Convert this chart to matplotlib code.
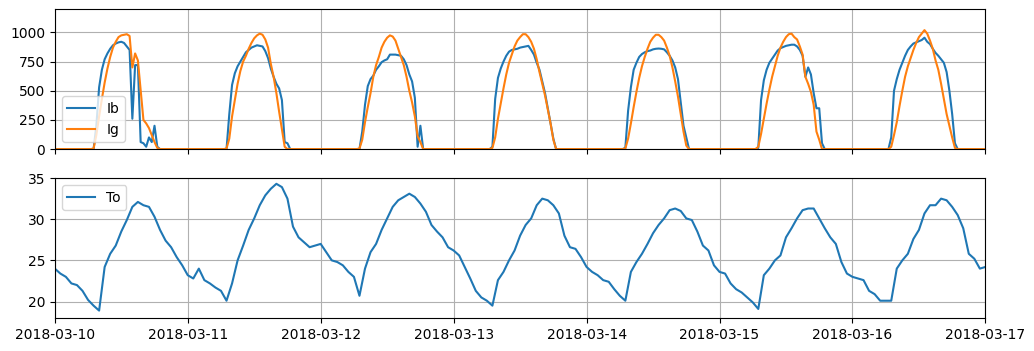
import matplotlib
matplotlib.use('Agg')
import matplotlib.pyplot as plt
import matplotlib.dates as mdates
import numpy as np
import pandas as pd

# half-hourly irradiance, one list per day (00:00 .. 23:30)
ig_0310 = [0, 0, 0, 0, 0, 0, 0, 0, 0, 0, 0, 0, 0, 0,
           5, 120, 280, 430, 570, 690, 790, 870, 920, 960, 975, 980,
           985, 970, 700, 820, 760, 500, 250, 220, 180, 120, 60, 10,
           0, 0, 0, 0, 0, 0, 0, 0, 0, 0]
ib_0310 = [0, 0, 0, 0, 0, 0, 0, 0, 0, 0, 0, 0, 0, 0,
           0, 200, 530, 680, 770, 820, 860, 890, 905, 915, 920, 910,
           880, 850, 260, 720, 720, 60, 50, 20, 100, 60, 200, 20,
           0, 0, 0, 0, 0, 0, 0, 0, 0, 0]
ig_0311 = [0, 0, 0, 0, 0, 0, 0, 0, 0, 0, 0, 0, 0, 0,
           5, 90, 280, 420, 560, 670, 750, 800, 860, 910, 950, 975,
           990, 980, 940, 870, 730, 620, 480, 320, 170, 20, 0, 0,
           0, 0, 0, 0, 0, 0, 0, 0, 0, 0]
ib_0311 = [0, 0, 0, 0, 0, 0, 0, 0, 0, 0, 0, 0, 0, 0,
           0, 300, 550, 650, 710, 750, 790, 830, 850, 870, 880, 890,
           885, 880, 840, 780, 690, 620, 560, 520, 420, 60, 50, 0,
           0, 0, 0, 0, 0, 0, 0, 0, 0, 0]
ig_0312 = [0, 0, 0, 0, 0, 0, 0, 0, 0, 0, 0, 0, 0, 0,
           5, 80, 230, 360, 480, 620, 720, 790, 870, 920, 955, 975,
           965, 930, 860, 790, 720, 620, 500, 400, 280, 110, 60, 0,
           0, 0, 0, 0, 0, 0, 0, 0, 0, 0]
ib_0312 = [0, 0, 0, 0, 0, 0, 0, 0, 0, 0, 0, 0, 0, 0,
           0, 150, 380, 540, 600, 630, 680, 710, 745, 760, 770, 810,
           810, 810, 805, 800, 770, 720, 640, 580, 440, 20, 200, 0,
           0, 0, 0, 0, 0, 0, 0, 0, 0, 0]
ig_0313 = [0, 0, 0, 0, 0, 0, 0, 0, 0, 0, 0, 0, 0, 0,
           10, 100, 260, 390, 520, 640, 740, 810, 880, 930, 960, 985,
           985, 960, 920, 860, 770, 660, 560, 460, 340, 220, 80, 0,
           0, 0, 0, 0, 0, 0, 0, 0, 0, 0]
ib_0313 = [0, 0, 0, 0, 0, 0, 0, 0, 0, 0, 0, 0, 0, 0,
           20, 430, 610, 690, 750, 800, 835, 850, 855, 860, 870, 875,
           880, 885, 850, 810, 740, 680, 580, 480, 350, 220, 90, 0,
           0, 0, 0, 0, 0, 0, 0, 0, 0, 0]
ig_0314 = [0, 0, 0, 0, 0, 0, 0, 0, 0, 0, 0, 0, 0, 0,
           5, 90, 220, 360, 490, 610, 710, 790, 860, 920, 955, 980,
           980, 960, 930, 870, 800, 700, 580, 450, 300, 150, 30, 0,
           0, 0, 0, 0, 0, 0, 0, 0, 0, 0]
ib_0314 = [0, 0, 0, 0, 0, 0, 0, 0, 0, 0, 0, 0, 0, 0,
           10, 330, 530, 680, 740, 790, 815, 830, 840, 845, 855, 860,
           862, 860, 855, 830, 800, 760, 700, 600, 400, 200, 100, 0,
           0, 0, 0, 0, 0, 0, 0, 0, 0, 0]
ig_0315 = [0, 0, 0, 0, 0, 0, 0, 0, 0, 0, 0, 0, 0, 0,
           20, 130, 260, 390, 510, 620, 710, 800, 870, 920, 960, 985,
           990, 960, 940, 880, 810, 620, 560, 490, 380, 150, 80, 0,
           0, 0, 0, 0, 0, 0, 0, 0, 0, 0]
ib_0315 = [0, 0, 0, 0, 0, 0, 0, 0, 0, 0, 0, 0, 0, 0,
           10, 420, 590, 680, 740, 775, 810, 845, 865, 875, 885, 890,
           895, 895, 880, 850, 800, 620, 700, 640, 480, 350, 350, 50,
           0, 0, 0, 0, 0, 0, 0, 0, 0, 0]
ig_0316 = [0, 0, 0, 0, 0, 0, 0, 0, 0, 0, 0, 0, 0, 0,
           20, 120, 230, 370, 500, 620, 710, 780, 850, 910, 960, 990,
           1020, 990, 930, 860, 760, 680, 560, 430, 300, 200, 100, 10,
           0, 0, 0, 0, 0, 0, 0, 0, 0, 0]
ib_0316 = [0, 0, 0, 0, 0, 0, 0, 0, 0, 0, 0, 0, 0, 0,
           100, 500, 600, 680, 740, 800, 850, 880, 905, 915, 925, 935,
           955, 920, 900, 860, 825, 800, 770, 740, 660, 500, 300, 50,
           0, 0, 0, 0, 0, 0, 0, 0, 0, 0]

# hourly outdoor temperature, one list per day (00:00 .. 23:00)
to_0310 = [24.0, 23.4, 23.0, 22.2, 22.0, 21.3, 20.2, 19.5, 18.9, 24.2, 25.8, 26.8,
           28.5, 29.9, 31.5, 32.1, 31.7, 31.5, 30.3, 28.7, 27.4, 26.6, 25.4, 24.4]
to_0311 = [23.2, 22.8, 24.0, 22.6, 22.2, 21.7, 21.3, 20.1, 22.2, 25.0, 26.8, 28.7,
           30.1, 31.7, 32.9, 33.7, 34.3, 33.9, 32.5, 29.1, 27.8, 27.2, 26.6, 26.8]
to_0312 = [27.0, 26.0, 25.0, 24.8, 24.4, 23.6, 23.0, 20.7, 24.0, 26.0, 27.0, 28.7,
           30.1, 31.5, 32.3, 32.7, 33.1, 32.7, 31.9, 30.9, 29.3, 28.5, 27.8, 26.6]
to_0313 = [26.2, 25.6, 24.2, 22.8, 21.3, 20.5, 20.1, 19.5, 22.6, 23.6, 25.0, 26.2,
           28.0, 29.3, 30.1, 31.7, 32.5, 32.3, 31.7, 30.7, 28.0, 26.6, 26.4, 25.4]
to_0314 = [24.2, 23.6, 23.2, 22.6, 22.4, 21.5, 20.7, 20.1, 23.6, 24.8, 25.8, 27.0,
           28.3, 29.3, 30.1, 31.1, 31.3, 31.0, 30.1, 29.9, 28.5, 26.8, 26.2, 24.4]
to_0315 = [23.6, 23.4, 22.2, 21.5, 21.1, 20.5, 19.9, 19.1, 23.2, 24.0, 25.0, 25.6,
           27.8, 28.9, 30.1, 31.1, 31.3, 31.3, 30.1, 28.9, 27.8, 27.0, 24.8, 23.4]
to_0316 = [23.0, 22.8, 22.6, 21.3, 20.9, 20.1, 20.1, 20.1, 24.0, 25.0, 25.8, 27.6,
           28.7, 30.7, 31.7, 31.7, 32.5, 32.3, 31.5, 30.5, 28.9, 25.8, 25.2, 24.0]
to_0317 = [24.2]

ig = ig_0310 + ig_0311 + ig_0312 + ig_0313 + ig_0314 + ig_0315 + ig_0316 + [0]
ib = ib_0310 + ib_0311 + ib_0312 + ib_0313 + ib_0314 + ib_0315 + ib_0316 + [0]
to = to_0310 + to_0311 + to_0312 + to_0313 + to_0314 + to_0315 + to_0316 + to_0317

t_irr = pd.date_range('2018-03-10', periods=len(ib), freq='30min')
t_to = pd.date_range('2018-03-10', periods=len(to), freq='h')

fig, (ax1, ax2) = plt.subplots(2, 1, sharex=True, figsize=(10.34, 3.51), dpi=100)
fig.subplots_adjust(left=0.053, right=0.953, top=0.974, bottom=0.094, hspace=0.207)

ax1.plot(t_irr, ib, label='Ib')
ax1.plot(t_irr, ig, label='Ig')
ax1.set_ylim(0, 1200)
ax1.set_yticks([0, 250, 500, 750, 1000])
ax1.grid(True)
ax1.legend(loc='lower left')

ax2.plot(t_to, to, label='To')
ax2.set_ylim(18, 35)
ax2.set_yticks([20, 25, 30, 35])
ax2.grid(True)
ax2.legend(loc='upper left')

ax2.set_xlim(pd.Timestamp('2018-03-10'), pd.Timestamp('2018-03-17'))
ax2.xaxis.set_major_locator(mdates.DayLocator())
ax2.xaxis.set_major_formatter(mdates.DateFormatter('%Y-%m-%d'))

fig.savefig('out.png')
